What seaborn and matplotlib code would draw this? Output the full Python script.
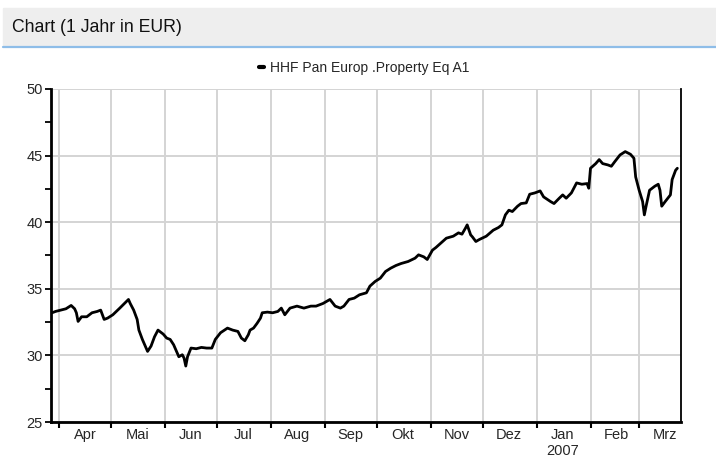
import pandas as pd
import numpy as np
import matplotlib
matplotlib.use("Agg")
import matplotlib.pyplot as plt
import matplotlib.dates as mdates
from matplotlib.patches import Rectangle
from matplotlib.lines import Line2D
import seaborn as sns

# --- data (days after 2006-04-01, price in EUR) ---
tage = [-4, -2, 1, 4, 7, 9, 10, 11, 13, 16,
        19, 22, 24, 26, 28, 31, 35, 40, 41, 43,
        45, 46, 48, 51, 53, 55, 57, 60, 62, 64,
        66, 69, 71, 72, 73, 74, 76, 79, 82, 85,
        88, 90, 93, 97, 100, 103, 105, 107, 109, 110,
        112, 114, 116, 117, 120, 123, 126, 128, 130, 133,
        137, 141, 145, 148, 152, 156, 159, 162, 164, 167,
        170, 173, 177, 179, 182, 185, 188, 191, 194, 197,
        201, 205, 207, 210, 212, 215, 217, 220, 223, 227,
        230, 232, 234, 235, 237, 238, 240, 242, 246, 250,
        253, 255, 257, 259, 261, 264, 266, 269, 271, 274,
        277, 279, 283, 285, 288, 290, 292, 295, 298, 301,
        304, 305, 306, 309, 311, 313, 316, 318, 320, 323,
        326, 329, 331, 332, 334, 336, 337, 338, 340, 343,
        345, 346, 347, 349, 352, 353, 355, 356]

kurs = [33.2, 33.3, 33.4, 33.5, 33.75, 33.5, 33.2, 32.55, 32.9, 32.9,
        33.2, 33.3, 33.4, 32.7, 32.8, 33.05, 33.55, 34.2, 33.9, 33.4,
        32.7, 31.9, 31.2, 30.3, 30.7, 31.4, 31.9, 31.6, 31.3, 31.2,
        30.8, 29.9, 30.05, 29.8, 29.2, 29.9, 30.55, 30.5, 30.6, 30.55,
        30.55, 31.2, 31.7, 32.05, 31.9, 31.8, 31.3, 31.1, 31.55, 31.9,
        32.05, 32.4, 32.8, 33.2, 33.25, 33.2, 33.3, 33.55, 33.05, 33.55,
        33.7, 33.55, 33.7, 33.7, 33.9, 34.2, 33.7, 33.55, 33.7, 34.2,
        34.3, 34.55, 34.7, 35.2, 35.55, 35.8, 36.3, 36.55, 36.75, 36.9,
        37.05, 37.3, 37.55, 37.4, 37.2, 37.9, 38.1, 38.45, 38.8, 38.95,
        39.2, 39.1, 39.55, 39.8, 39.05, 38.9, 38.55, 38.7, 38.95, 39.4,
        39.6, 39.8, 40.55, 40.9, 40.8, 41.2, 41.4, 41.45, 42.1, 42.2,
        42.35, 41.9, 41.55, 41.4, 41.8, 42.05, 41.8, 42.2, 42.95, 42.85,
        42.9, 42.55, 44.05, 44.4, 44.7, 44.4, 44.3, 44.2, 44.55, 45.05,
        45.3, 45.1, 44.8, 43.4, 42.4, 41.55, 40.55, 41.2, 42.4, 42.7,
        42.85, 42.4, 41.2, 41.55, 42.05, 43.2, 43.9, 44.05]

monate = ["Apr", "Mai", "Jun", "Jul", "Aug", "Sep", "Okt", "Nov", "Dez",
          "Jan\n2007", "Feb", "Mrz"]
fonds_name = "HHF Pan Europ .Property Eq A1"
titel = "Chart (1 Jahr in EUR)"

start = pd.Timestamp("2006-04-01")
df = pd.DataFrame({
    "datum": start + pd.to_timedelta(tage, unit="D"),
    "kurs": kurs,
})

sns.set_style("white")
plt.rcParams["font.family"] = ["Liberation Sans", "DejaVu Sans"]

fig = plt.figure(figsize=(7.16, 4.61), dpi=100)
W, H = 716, 461
ax = fig.add_axes([51 / W, 1 - 422 / H, (681 - 51) / W, (422 - 89) / H])

# header band
fig.patches.append(Rectangle((3 / W, 1 - 46 / H), 1 - 3 / W, 38 / H,
                             transform=fig.transFigure, color="#EEEEEE", zorder=0))
fig.lines.append(Line2D([3 / W, 1], [1 - 47 / H, 1 - 47 / H], transform=fig.transFigure,
                        color="#8EBDE8", linewidth=1.6))
fig.text(12 / W, 1 - 27 / H, titel, fontsize=12.7, va="center", ha="left", color="#111111")

sns.lineplot(data=df, x="datum", y="kurs", ax=ax, color="black", linewidth=2.0,
             label=fonds_name, legend=False)

# axes ranges and ticks
ax.set_xlim(start - pd.Timedelta(days=4.6), start + pd.Timedelta(days=358.1))
ax.set_ylim(25, 50)
ax.set_yticks([25, 30, 35, 40, 45, 50])
ax.set_yticks([27.5, 32.5, 37.5, 42.5, 47.5], minor=True)

monatsanfang = pd.date_range("2006-04-01", periods=12, freq="MS")
monatsmitte = monatsanfang + pd.Timedelta(days=15)
ax.set_xticks(monatsanfang)
ax.set_xticklabels([""] * 12)
ax.set_xticks(monatsmitte, minor=True)
ax.set_xticklabels(monate, minor=True)

ax.tick_params(axis="x", which="major", direction="out", length=4, width=1.5, color="black", bottom=True)
ax.tick_params(axis="x", which="minor", length=0, pad=4, labelsize=10.5)
ax.tick_params(axis="y", which="both", direction="out", length=4, width=1.3, color="black",
               left=True, labelsize=10.5, pad=2)

ax.grid(True, which="major", color="#D4D4D4", linewidth=1.4)
ax.set_axisbelow(True)
ax.set_xlabel("")
ax.set_ylabel("")

for side in ["left", "bottom"]:
    ax.spines[side].set_color("black")
    ax.spines[side].set_linewidth(2.0)
ax.spines["right"].set_color("black")
ax.spines["right"].set_linewidth(1.3)
ax.spines["top"].set_visible(False)

# legend above the plot
handle = Line2D([0], [0], color="black", linewidth=3)
fig.legend([handle], [fonds_name], loc="center", bbox_to_anchor=(364 / W, 1 - 68 / H),
           frameon=False, fontsize=10, handlelength=0.35, handletextpad=0.45)

fig.savefig("out.png", dpi=100)
